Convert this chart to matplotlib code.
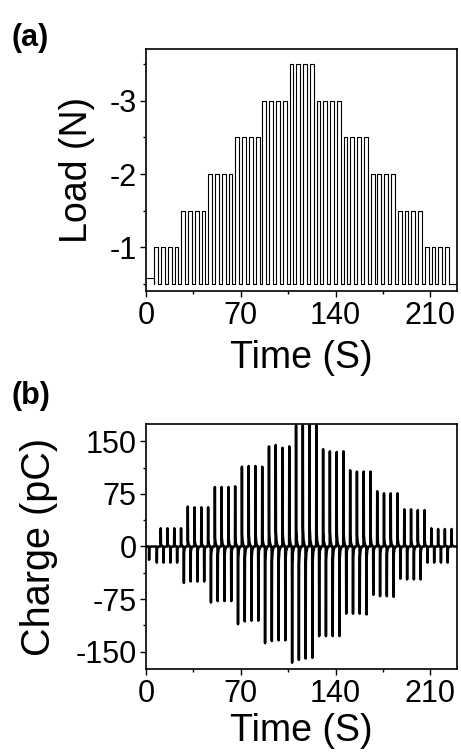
import numpy as np
import matplotlib
matplotlib.use('Agg')
import matplotlib.pyplot as plt
from matplotlib.ticker import MultipleLocator

plt.rcParams['font.family'] = ['Liberation Sans', 'DejaVu Sans']
plt.rcParams['axes.unicode_minus'] = False

# --- data ---
# load steps (N), 4 press/release pulses per level
load_levels = [-1, -1.5, -2, -2.5, -3, -3.5, -3, -2.5, -2, -1.5, -1]
pulses_per_level = 4
load_rest = -0.5
load_start = -0.58
t_first = 6.0      # s, first press
period = 5.0       # s
t_hold = 2.8       # s, press duration

# charge peaks (pC) for each pulse: press -> negative, release -> positive
charge_neg = [-23, -23, -23, -23,
              -52, -50, -50, -50,
              -80, -78, -78, -78,
              -111, -107, -106, -106,
              -138, -135, -134, -134,
              -166, -162, -160, -159,
              -128, -128, -128, -128,
              -96, -96, -96, -97,
              -69, -71, -71, -72,
              -46, -47, -47, -47,
              -23, -23, -23, -23]
charge_pos = [26, 26, 26, 26,
              57, 56, 56, 56,
              85, 85, 85, 86,
              114, 115, 115, 114,
              143, 145, 141, 143,
              173, 173, 173, 173,
              139, 136, 135, 136,
              109, 107, 107, 107,
              79, 76, 76, 76,
              53, 53, 52, 52,
              26, 25, 25, 25]
first_dip = (2.2, -19)
neg_delay = 1.9    # s after press
pos_delay = 4.8    # s after press

# --- build the load trace ---
levels = np.repeat(load_levels, pulses_per_level)
rises = t_first + period * np.arange(len(levels))
t_load = [0, rises[0]]
f_load = [load_start, load_start]
for r, lv in zip(rises, levels):
    t_load += [r, r, r + t_hold, r + t_hold]
    f_load += [load_rest, lv, lv, load_rest]
t_load += [230]
f_load += [load_rest]

# --- build the charge trace (sharp spike + fast decay) ---
shape_t = [-0.15, 0.0, 0.15, 0.6, 1.5]
shape_v = [0.0, 1.0, 0.15, 0.05, 0.0]
events = [first_dip]
for r, n, p in zip(rises, charge_neg, charge_pos):
    events.append((r + neg_delay, n))
    events.append((r + pos_delay, p))
t_q = [0.0]
q = [0.0]
for te, pk in events:
    for st, sv in zip(shape_t, shape_v):
        t_q.append(te + st)
        q.append(pk * sv)
t_q.append(230)
q.append(0.0)

# --- plot ---
fig = plt.figure(figsize=(4.61, 7.54), dpi=100)
ax1 = fig.add_axes([0.317, 0.614, 0.675, 0.321])
ax2 = fig.add_axes([0.317, 0.1127, 0.675, 0.325])

ax1.plot(t_load, f_load, color='black', lw=0.8)
ax1.set_xlim(0, 230)
ax1.set_ylim(-0.4, -3.71)
ax1.yaxis.set_minor_locator(MultipleLocator(0.5))
ax1.set_yticks([-1, -2, -3])
ax1.set_ylabel('Load (N)', fontsize=27)

ax2.plot(t_q, q, color='black', lw=1.8)
ax2.set_xlim(0, 230)
ax2.set_ylim(-175, 175)
ax2.set_yticks([-150, -75, 0, 75, 150])
ax2.yaxis.set_minor_locator(MultipleLocator(37.5))
ax2.set_ylabel('Charge (pC)', fontsize=28.5)

for ax in (ax1, ax2):
    ax.set_xticks([0, 70, 140, 210])
    ax.xaxis.set_minor_locator(MultipleLocator(35))
    ax.tick_params(which='both', direction='out', top=False, right=False,
                   labelsize=22, width=1.0)
    ax.tick_params(which='major', length=4, pad=3)
    ax.tick_params(which='minor', length=2.5)
    for s in ax.spines.values():
        s.set_linewidth(1.2)
    ax.set_xlabel('Time (S)', fontsize=27)
    ax.xaxis.label.set_verticalalignment('center')
    ax.yaxis.label.set_verticalalignment('center')

ax1.yaxis.set_label_coords(-0.222, 0.5)
ax2.yaxis.set_label_coords(-0.345, 0.5)
ax1.xaxis.set_label_coords(0.5, -0.277)
ax2.xaxis.set_label_coords(0.5, -0.253)

fig.text(0.024, 0.970, '(a)', fontsize=22, fontweight='bold', va='top')
fig.text(0.024, 0.495, '(b)', fontsize=22, fontweight='bold', va='top')

fig.savefig('out.png', dpi=100)
